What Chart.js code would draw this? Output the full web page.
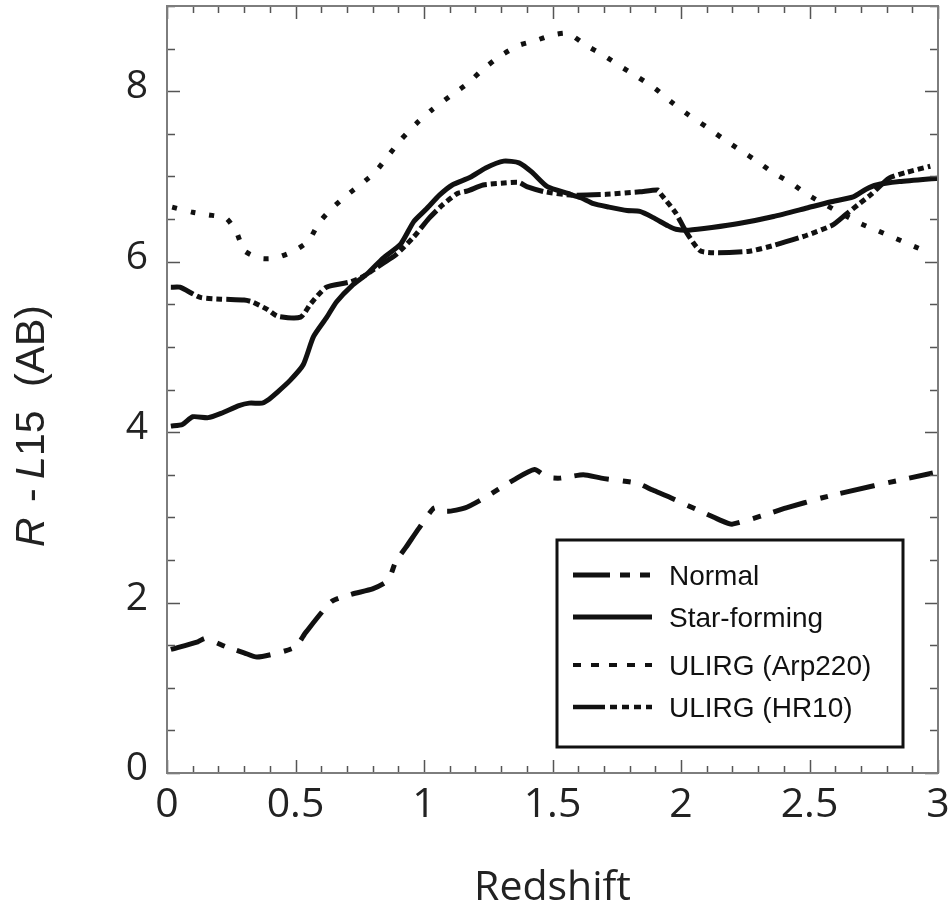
<!DOCTYPE html>
<html>
<head>
<meta charset="utf-8">
<script src="https://cdn.jsdelivr.net/npm/chart.js@4.4.1/dist/chart.umd.min.js"></script>
<style>
	html, body { margin: 0; padding: 0; background: #fff; }
	canvas { display: block; }
</style>
</head>
<body>
<canvas id="redshiftColor" width="950" height="905"></canvas>
<script>
// tick labels
const xTickValues = [0, 0.5, 1, 1.5, 2, 2.5, 3];
const yTickValues = [0, 2, 4, 6, 8];

// Normal
const normalZ = [0.015, 0.12, 0.15, 0.23, 0.30, 0.35, 0.42, 0.50, 0.54, 0.64, 0.72, 0.80, 0.86, 0.89, 0.93, 0.98, 1.04, 1.09, 1.16, 1.23, 1.35, 1.43, 1.48, 1.53, 1.62, 1.69, 1.83, 1.89, 1.96, 2.15, 2.20, 2.41, 2.55, 2.75, 2.98];
const normalColor = [1.45, 1.54, 1.58, 1.48, 1.41, 1.36, 1.40, 1.48, 1.65, 2.01, 2.10, 2.16, 2.26, 2.48, 2.65, 2.87, 3.11, 3.07, 3.11, 3.22, 3.44, 3.56, 3.47, 3.46, 3.50, 3.46, 3.40, 3.32, 3.23, 2.97, 2.92, 3.11, 3.23, 3.37, 3.52];

// Star-forming
const starZ = [0.015, 0.06, 0.10, 0.16, 0.21, 0.28, 0.32, 0.37, 0.39, 0.43, 0.48, 0.53, 0.57, 0.62, 0.66, 0.72, 0.78, 0.84, 0.91, 0.96, 1.01, 1.06, 1.11, 1.18, 1.24, 1.31, 1.37, 1.42, 1.48, 1.56, 1.61, 1.66, 1.72, 1.79, 1.84, 1.89, 1.95, 1.98, 2.03, 2.12, 2.23, 2.36, 2.49, 2.58, 2.67, 2.72, 2.76, 2.85, 3.00];
const starColor = [4.07, 4.09, 4.18, 4.17, 4.22, 4.31, 4.34, 4.34, 4.37, 4.47, 4.61, 4.79, 5.12, 5.34, 5.53, 5.72, 5.86, 6.04, 6.21, 6.47, 6.62, 6.78, 6.90, 6.99, 7.10, 7.18, 7.16, 7.05, 6.88, 6.80, 6.75, 6.68, 6.64, 6.60, 6.59, 6.52, 6.42, 6.38, 6.37, 6.40, 6.45, 6.53, 6.63, 6.70, 6.76, 6.85, 6.90, 6.94, 6.98];

// ULIRG (Arp220)
const arpZ = [0.02, 0.10, 0.16, 0.23, 0.27, 0.30, 0.36, 0.42, 0.49, 0.55, 0.59, 0.64, 0.70, 0.76, 0.81, 0.86, 0.91, 0.97, 1.03, 1.10, 1.17, 1.23, 1.30, 1.37, 1.43, 1.50, 1.56, 1.63, 1.70, 1.76, 1.83, 1.90, 1.96, 2.03, 2.10, 2.16, 2.23, 2.30, 2.36, 2.43, 2.49, 2.69, 2.76, 2.83, 2.89, 2.97];
const arpColor = [6.64, 6.58, 6.55, 6.51, 6.35, 6.13, 6.04, 6.04, 6.12, 6.24, 6.45, 6.62, 6.78, 6.92, 7.05, 7.24, 7.43, 7.62, 7.78, 7.94, 8.09, 8.26, 8.42, 8.54, 8.59, 8.66, 8.68, 8.54, 8.42, 8.30, 8.17, 8.03, 7.88, 7.72, 7.58, 7.45, 7.31, 7.17, 7.04, 6.92, 6.79, 6.46, 6.37, 6.28, 6.20, 6.10];

// ULIRG (HR10)
const hr10Z = [0.015, 0.05, 0.13, 0.21, 0.30, 0.33, 0.39, 0.43, 0.52, 0.56, 0.62, 0.71, 0.76, 0.84, 0.89, 0.96, 1.02, 1.07, 1.13, 1.17, 1.23, 1.30, 1.37, 1.40, 1.47, 1.58, 1.71, 1.84, 1.91, 1.92, 1.98, 2.02, 2.08, 2.26, 2.36, 2.49, 2.59, 2.64, 2.69, 2.74, 2.81, 2.88, 2.97];
const hr10Color = [5.70, 5.70, 5.58, 5.56, 5.55, 5.53, 5.44, 5.36, 5.35, 5.51, 5.70, 5.76, 5.82, 5.98, 6.08, 6.29, 6.51, 6.66, 6.80, 6.83, 6.90, 6.92, 6.93, 6.88, 6.82, 6.78, 6.79, 6.82, 6.84, 6.80, 6.57, 6.35, 6.12, 6.12, 6.19, 6.31, 6.43, 6.55, 6.67, 6.79, 6.98, 7.05, 7.12];

function toPoints(xs, ys) {
	return xs.map((x, i) => ({ x: x, y: ys[i] }));
}

// tick marks inside the frame, on all four sides
const frameTicks = {
	id: 'frameTicks',
	afterDatasetsDraw(chart) {
		const ctx = chart.ctx;
		const area = chart.chartArea;
		const xs = chart.scales.x;
		const ys = chart.scales.y;
		ctx.save();
		ctx.strokeStyle = '#555';
		ctx.lineWidth = 1.5;
		ctx.beginPath();
		for (let i = 0; i <= 30; i++) {
			const px = Math.round(xs.getPixelForValue(i / 10)) + 0.5;
			const len = (i % 5 == 0) ? 13 : 7;
			ctx.moveTo(px, area.bottom);
			ctx.lineTo(px, area.bottom - len);
			ctx.moveTo(px, area.top);
			ctx.lineTo(px, area.top + len);
		}
		for (let j = 0; j <= 18; j++) {
			const py = Math.round(ys.getPixelForValue(j / 2)) + 0.5;
			const len = (j % 4 == 0) ? 13 : 8;
			ctx.moveTo(area.left, py);
			ctx.lineTo(area.left + len, py);
			ctx.moveTo(area.right, py);
			ctx.lineTo(area.right - len, py);
		}
		ctx.stroke();
		ctx.strokeStyle = '#7d7d7d';
		ctx.lineWidth = 2;
		ctx.strokeRect(area.left, area.top, area.right - area.left, area.bottom - area.top);
		ctx.restore();
	}
};

// axis titles
const axisTitles = {
	id: 'axisTitles',
	afterDraw(chart) {
		const ctx = chart.ctx;
		const area = chart.chartArea;
		ctx.save();
		ctx.fillStyle = '#222';
		ctx.font = '41px "Open Sans", "Noto Sans", sans-serif';
		ctx.textAlign = 'center';
		ctx.textBaseline = 'alphabetic';
		ctx.fillText('Redshift', (area.left + area.right) / 2, 900);

		// rotated y title with italic R and L
		ctx.translate(44, 547);
		ctx.rotate(-Math.PI / 2);
		ctx.textAlign = 'left';
		const pieces = [
			{ t: 'R', at: 0, it: true },
			{ t: '-', at: 45, it: false },
			{ t: 'L', at: 68, it: true },
			{ t: '15', at: 91, it: false },
			{ t: '(AB)', at: 160, it: false }
		];
		pieces.forEach(p => {
			ctx.font = (p.it ? 'italic ' : '') + '41px "Liberation Sans", Arial, sans-serif';
			ctx.fillText(p.t, p.at, 0);
		});
		ctx.restore();
	}
};

// legend box inside the plot
const boxLegend = {
	id: 'boxLegend',
	afterDraw(chart) {
		const ctx = chart.ctx;
		const area = chart.chartArea;
		const left = area.right - 381;
		const top = area.bottom - 233;
		ctx.save();
		ctx.strokeStyle = '#111';
		ctx.lineWidth = 3;
		ctx.strokeRect(left, top, 346, 207);
		const rows = [35, 77, 125, 167];
		const legendDash = [[37, 10, 10, 10, 10, 10], [], [8, 10], [32, 5, 7, 5, 7, 5, 7, 5]];
		const legendWidth = [5, 5, 4, 4.5];
		chart.data.datasets.forEach((ds, i) => {
			const y = top + rows[i];
			ctx.strokeStyle = '#111';
			ctx.lineWidth = legendWidth[i];
			ctx.lineCap = 'butt';
			ctx.setLineDash(legendDash[i]);
			ctx.beginPath();
			ctx.moveTo(left + 16, y);
			ctx.lineTo(left + 95, y);
			ctx.stroke();
			ctx.setLineDash([]);
			ctx.fillStyle = '#111';
			ctx.font = '28px "Liberation Sans", Arial, sans-serif';
			ctx.textAlign = 'left';
			ctx.textBaseline = 'middle';
			ctx.fillText(ds.label, left + 112, y + 2);
		});
		ctx.restore();
	}
};

const target = document.getElementById('redshiftColor');
new Chart(target, {
	type: 'line',
	data: {
		datasets: [
			{
				label: 'Normal',
				data: toPoints(normalZ, normalColor),
				borderColor: '#111',
				borderWidth: 5,
				borderDash: [35, 14, 8, 13],
				pointRadius: 0,
				tension: 0.2,
				fill: false
			},
			{
				label: 'Star-forming',
				data: toPoints(starZ, starColor),
				borderColor: '#111',
				borderWidth: 5,
				pointRadius: 0,
				tension: 0.2,
				fill: false
			},
			{
				label: 'ULIRG (Arp220)',
				data: toPoints(arpZ, arpColor),
				borderColor: '#111',
				borderWidth: 5,
				borderDash: [5, 14],
				pointRadius: 0,
				tension: 0.2,
				fill: false
			},
			{
				label: 'ULIRG (HR10)',
				data: toPoints(hr10Z, hr10Color),
				borderColor: '#111',
				borderWidth: 5,
				borderDash: [24, 4, 6, 4, 6, 4, 6, 4],
				pointRadius: 0,
				tension: 0.2,
				fill: false
			}
		]
	},
	options: {
		responsive: false,
		animation: false,
		layout: { padding: { left: 0, right: 12, top: 6, bottom: 0 } },
		plugins: {
			legend: { display: false },
			tooltip: { enabled: false }
		},
		scales: {
			x: {
				type: 'linear',
				min: 0,
				max: 3,
				afterBuildTicks: scale => { scale.ticks = xTickValues.map(v => ({ value: v })); },
				afterFit: scale => {
					scale.height = 132;
					scale.paddingLeft = 0;
					scale.paddingRight = 0;
				},
				grid: { display: false, drawTicks: false },
				border: { display: false },
				ticks: {
					padding: 8,
					color: '#222',
					font: { family: '"Open Sans", "Noto Sans", sans-serif', size: 41 },
					maxRotation: 0,
					callback: v => String(v)
				}
			},
			y: {
				type: 'linear',
				min: 0,
				max: 9,
				afterBuildTicks: scale => { scale.ticks = yTickValues.map(v => ({ value: v })); },
				afterFit: scale => {
					scale.width = 167;
					scale.paddingTop = 0;
					scale.paddingBottom = 0;
				},
				grid: { display: false, drawTicks: false },
				border: { display: false },
				ticks: {
					padding: 19,
					labelOffset: -4,
					color: '#222',
					font: { family: '"Open Sans", "Noto Sans", sans-serif', size: 39 },
					callback: v => String(v)
				}
			}
		}
	},
	plugins: [frameTicks, axisTitles, boxLegend]
});
</script>
</body>
</html>
